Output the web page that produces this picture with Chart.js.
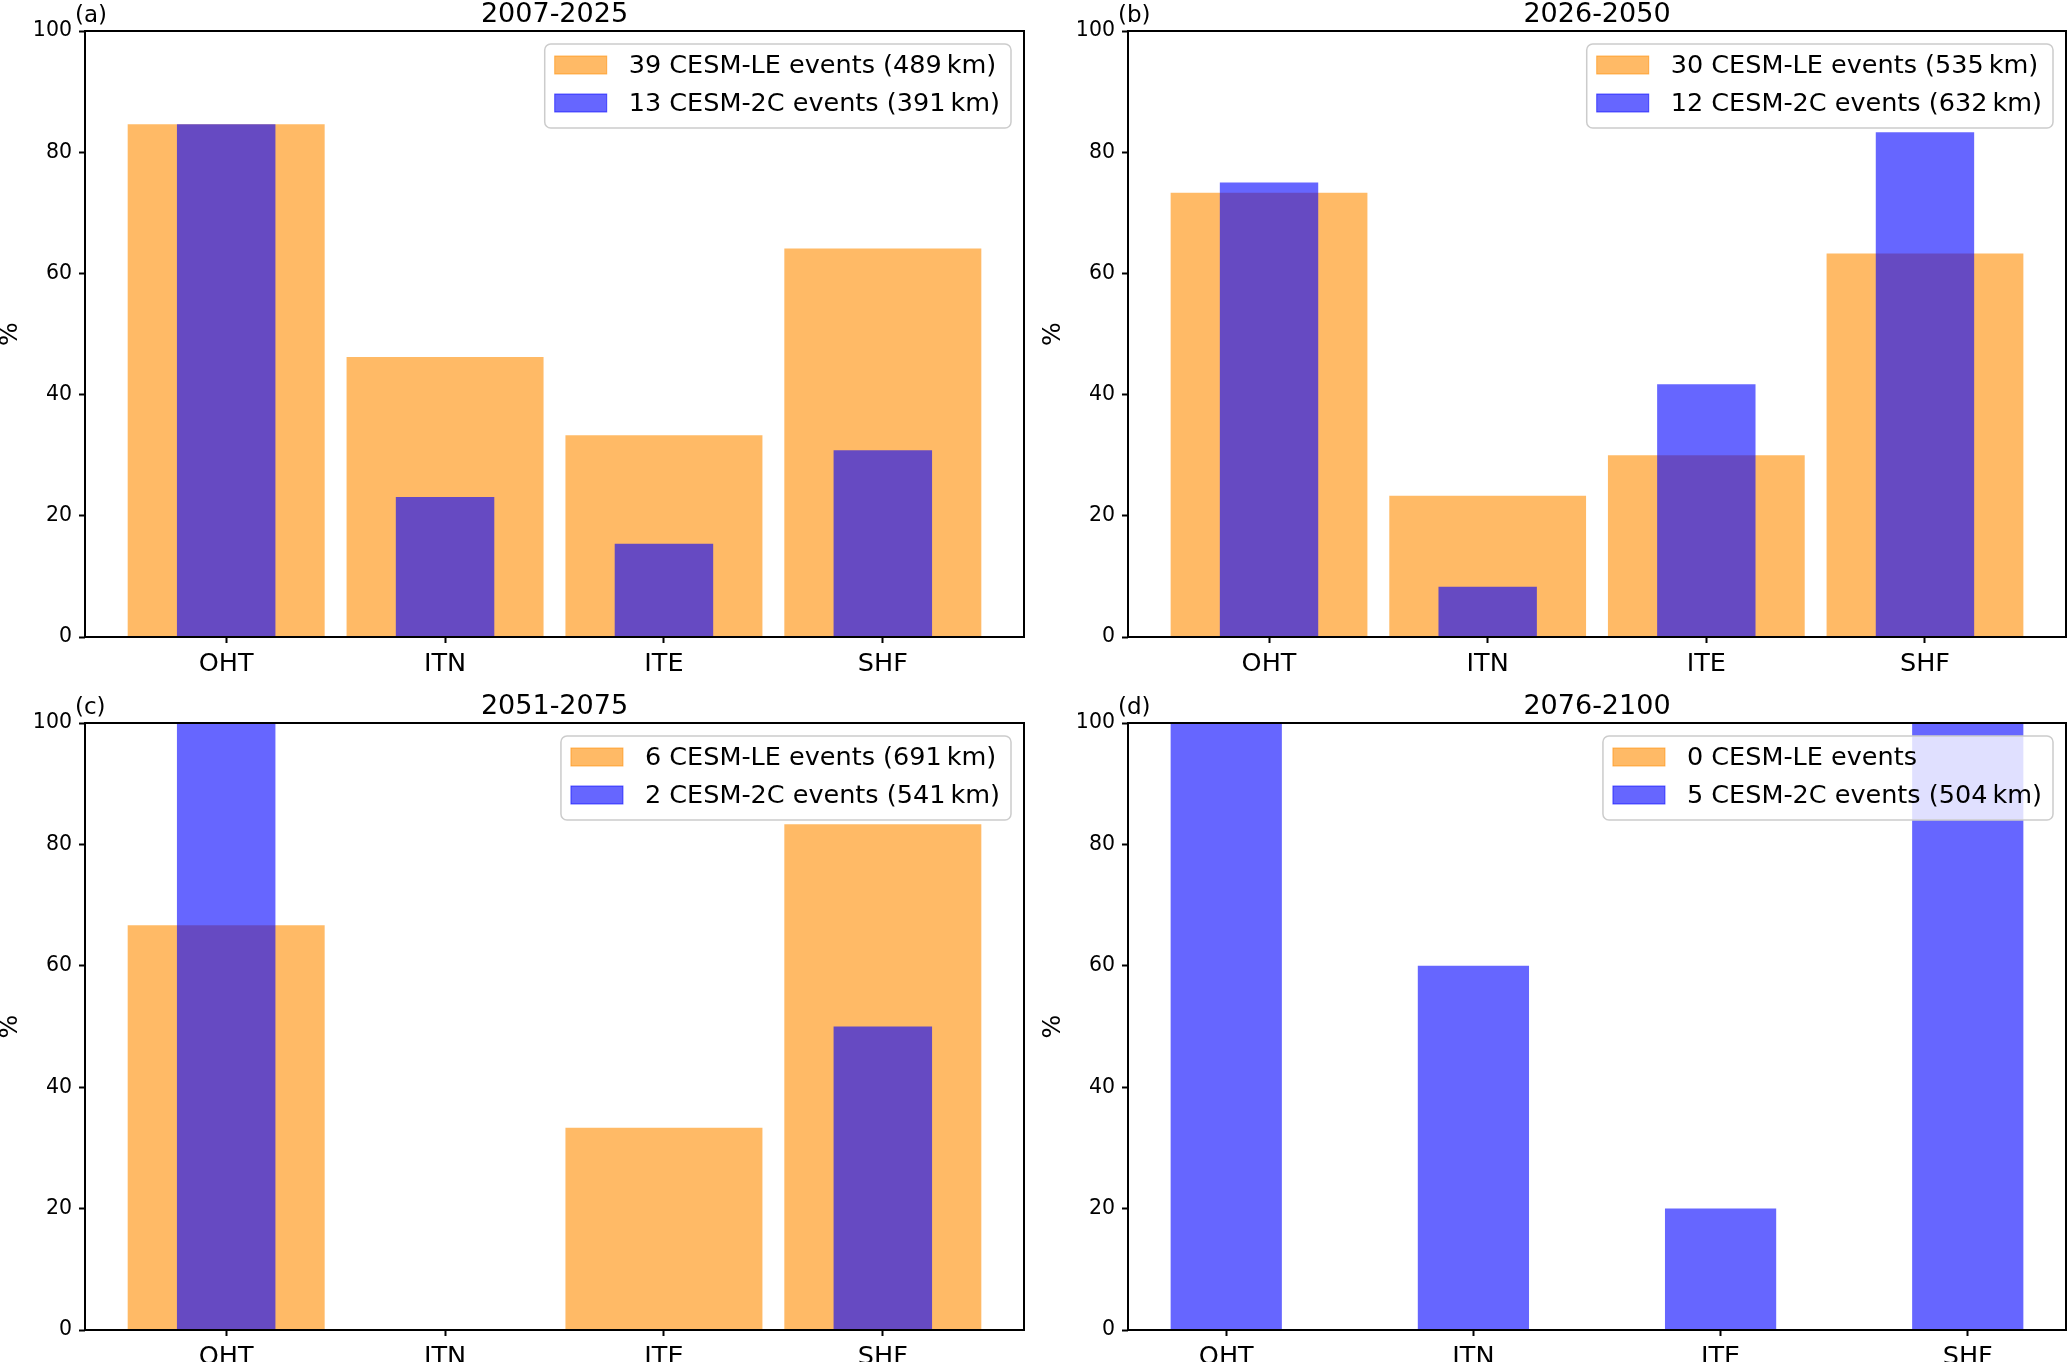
<!DOCTYPE html>
<html>
<head>
<meta charset="utf-8">
<script src="https://cdn.jsdelivr.net/npm/chart.js@4.4.0/dist/chart.umd.min.js"></script>
<style>
  body { margin: 0; background: #fff; }
  #figure { position: relative; width: 2067px; height: 1362px; overflow: hidden; background: #fff; }
  #figure canvas { position: absolute; }
</style>
</head>
<body>
<div id="figure"></div>
<script>
// categories and periods
const categories = ['OHT', 'ITN', 'ITE', 'SHF']
const periods = ['2007-2025', '2026-2050', '2051-2075', '2076-2100']
const panelTags = ['(a)', '(b)', '(c)', '(d)']
const yTicks = [0, 20, 40, 60, 80, 100]

// number of events and mean size per period
const leEvents = [39, 30, 6, 0]
const leKm = [489, 535, 691, null]
const tcEvents = [13, 12, 2, 5]
const tcKm = [391, 632, 541, 504]

// percentage of events per category (CESM-LE)
const le2007 = [84.6, 46.2, 33.3, 64.1]
const le2026 = [73.3, 23.3, 30.0, 63.3]
const le2051 = [66.7, 0, 33.3, 83.3]
const le2076 = [null, null, null, null]

// percentage of events per category (CESM-2C)
const tc2007 = [84.6, 23.1, 15.4, 30.8]
const tc2026 = [75.0, 8.3, 41.7, 83.3]
const tc2051 = [100, 0, 0, 50]
const tc2076 = [100, 60, 20, 100]

const leSeries = [le2007, le2026, le2051, le2076]
const tcSeries = [tc2007, tc2026, tc2051, tc2076]

const FONT = '"DejaVu Sans", "Liberation Sans", sans-serif'
const ORANGE = 'rgba(255, 140, 0, 0.6)'
const BLUE = 'rgba(0, 0, 255, 0.6)'

function eventLabel(n, km, model) {
  let txt = n + ' ' + model + ' events'
  if (km !== null && n > 0) txt += ' (' + km + '\u2009km)'
  return txt
}

// posição de cada painel na figura
const boxes = [
  { x: 0, y: 0, w: 1034, h: 681, padTop: 31, padRight: 10, yAxisW: 85, xAxisH: 44 },
  { x: 1034, y: 0, w: 1033, h: 681, padTop: 31, padRight: 1, yAxisW: 94, xAxisH: 44 },
  { x: 0, y: 681, w: 1034, h: 681, padTop: 42, padRight: 10, yAxisW: 85, xAxisH: 32 },
  { x: 1034, y: 681, w: 1033, h: 681, padTop: 42, padRight: 1, yAxisW: 94, xAxisH: 32 }
]

const framePlugin = {
  id: 'frame',
  afterDatasetsDraw(chart) {
    const ctx = chart.ctx
    const ca = chart.chartArea
    ctx.save()
    ctx.strokeStyle = '#000'
    ctx.lineWidth = 2
    ctx.strokeRect(ca.left, ca.top, ca.right - ca.left, ca.bottom - ca.top)
    ctx.restore()
  },
  afterDraw(chart, args, opts) {
    const i = opts.index
    const ctx = chart.ctx
    const ca = chart.chartArea
    ctx.save()
    ctx.fillStyle = '#000'

    // title and panel letter
    ctx.textBaseline = 'alphabetic'
    ctx.font = '27px ' + FONT
    ctx.textAlign = 'center'
    ctx.fillText(periods[i], (ca.left + ca.right) / 2, ca.top - 9)
    ctx.font = '23px ' + FONT
    ctx.textAlign = 'left'
    ctx.fillText(panelTags[i], ca.left - 10, ca.top - 9)

    // y label
    ctx.save()
    ctx.translate(ca.left - 75, (ca.top + ca.bottom) / 2)
    ctx.rotate(-Math.PI / 2)
    ctx.font = '25px ' + FONT
    ctx.textAlign = 'center'
    ctx.textBaseline = 'middle'
    ctx.fillText('%', 0, 0)
    ctx.restore()

    // legend box
    const labels = chart.data.datasets.map(d => d.label)
    const colors = chart.data.datasets.map(d => d.backgroundColor)
    ctx.font = '25.5px ' + FONT
    const tw = Math.max(...labels.map(t => ctx.measureText(t).width))
    const boxW = 84 + tw + 11
    const boxH = 84
    const bx = ca.right - 13 - boxW
    const by = ca.top + 13
    ctx.beginPath()
    if (ctx.roundRect) ctx.roundRect(bx, by, boxW, boxH, 6)
    else ctx.rect(bx, by, boxW, boxH)
    ctx.fillStyle = 'rgba(255, 255, 255, 0.8)'
    ctx.fill()
    ctx.strokeStyle = '#cccccc'
    ctx.lineWidth = 1.5
    ctx.stroke()

    labels.forEach((t, r) => {
      const cy = by + 21 + r * 38
      ctx.fillStyle = colors[r]
      ctx.fillRect(bx + 10, cy - 9, 52, 18)
      ctx.strokeStyle = colors[r]
      ctx.lineWidth = 1
      ctx.strokeRect(bx + 10, cy - 9, 52, 18)
      ctx.fillStyle = '#000'
      ctx.textAlign = 'left'
      ctx.textBaseline = 'middle'
      ctx.fillText(t, bx + 84, cy + 1)
    })
    ctx.restore()
  }
}

function makePanel(i) {
  const box = boxes[i]
  const fig = document.getElementById('figure')
  const canvas = document.createElement('canvas')
  canvas.width = box.w
  canvas.height = box.h
  canvas.style.left = box.x + 'px'
  canvas.style.top = box.y + 'px'
  canvas.style.width = box.w + 'px'
  canvas.style.height = box.h + 'px'
  fig.appendChild(canvas)

  const le = leSeries[i]
  const tc = tcSeries[i]

  // limites do eixo x como no matplotlib (margem de 5%)
  const hasLE = le.some(v => v !== null)
  const half = hasLE ? 0.45 : 0.225
  const span = categories.length - 1 + 2 * half
  const xMin = -half - 0.05 * span
  const xMax = categories.length - 1 + half + 0.05 * span

  const tickFont = { family: FONT }

  new Chart(canvas, {
    type: 'bar',
    data: {
      datasets: [
        {
          label: eventLabel(leEvents[i], leKm[i], 'CESM-LE'),
          data: le.map((v, k) => ({ x: k, y: v })),
          backgroundColor: ORANGE,
          borderWidth: 0,
          barPercentage: 0.9,
          categoryPercentage: 1,
          grouped: false,
          order: 2
        },
        {
          label: eventLabel(tcEvents[i], tcKm[i], 'CESM-2C'),
          data: tc.map((v, k) => ({ x: k, y: v })),
          backgroundColor: BLUE,
          borderWidth: 0,
          barPercentage: 0.45,
          categoryPercentage: 1,
          grouped: false,
          order: 1
        }
      ]
    },
    options: {
      responsive: false,
      animation: false,
      devicePixelRatio: 1,
      layout: { padding: { left: 0, top: box.padTop, right: box.padRight, bottom: 0 } },
      plugins: {
        legend: { display: false },
        tooltip: { enabled: false },
        title: { display: false },
        frame: { index: i }
      },
      scales: {
        x: {
          type: 'linear',
          min: xMin,
          max: xMax,
          offset: false,
          afterBuildTicks: s => { s.ticks = categories.map((c, k) => ({ value: k })) },
          afterFit: s => { s.height = box.xAxisH },
          ticks: {
            callback: v => categories[v],
            font: { ...tickFont, size: 25.5 },
            color: '#000',
            padding: 6,
            maxRotation: 0,
            autoSkip: false
          },
          grid: { offset: false, drawOnChartArea: false, drawTicks: true, tickLength: 6, tickWidth: 2, color: '#000' },
          border: { display: false }
        },
        y: {
          min: 0,
          max: 100,
          afterBuildTicks: s => { s.ticks = yTicks.map(v => ({ value: v })) },
          afterFit: s => { s.width = box.yAxisW },
          ticks: {
            font: { ...tickFont, size: 20.5 },
            color: '#000',
            padding: 7
          },
          grid: { offset: false, drawOnChartArea: false, drawTicks: true, tickLength: 6, tickWidth: 2, color: '#000' },
          border: { display: false }
        }
      }
    },
    plugins: [framePlugin]
  })
}

for (let i = 0; i < 4; i++) makePanel(i)
</script>
</body>
</html>
